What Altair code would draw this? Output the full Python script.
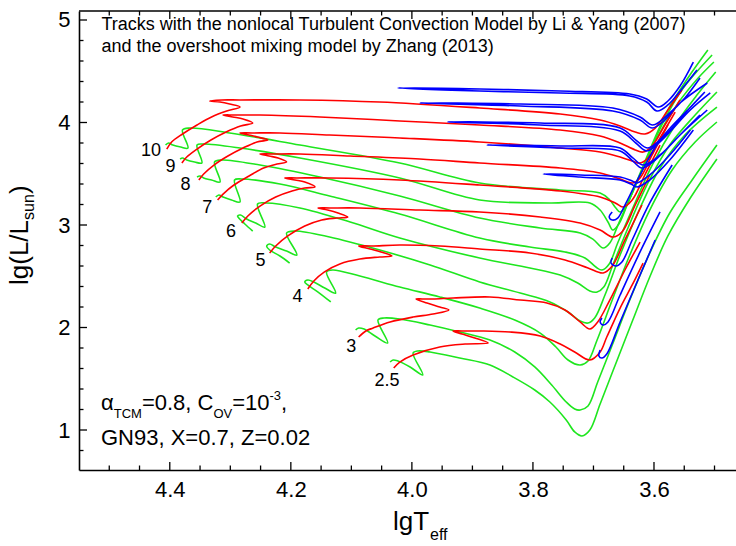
import altair as alt
import pandas as pd

FONT = "Liberation Sans"
GREEN = "#1ee61e"
RED = "#ff0000"
BLUE = "#0000ff"

# Evolutionary tracks as (lgTeff, lg L/Lsun) pairs, in evolutionary order.
green_10 = [(4.407,3.780),(4.402,3.800),(4.395,3.780),(4.382,3.761),(4.370,3.751),(4.379,3.927),(4.367,3.946),(4.301,3.898),(4.185,3.780),(4.020,3.605),(3.888,3.410),(3.755,3.341),(3.689,3.312),(3.673,3.244),(3.663,3.166),(3.656,3.127),(3.646,3.185),(3.631,3.390),(3.607,3.732),(3.577,4.122),(3.544,4.434),(3.511,4.707)]
green_9 = [(4.383,3.644),(4.379,3.654),(4.372,3.634),(4.359,3.615),(4.347,3.605),(4.355,3.780),(4.344,3.790),(4.284,3.751),(4.185,3.654),(4.020,3.459),(3.888,3.244),(3.772,3.215),(3.706,3.215),(3.689,3.146),(3.676,3.029),(3.668,2.951),(3.658,3.010),(3.643,3.215),(3.618,3.556),(3.587,3.976),(3.554,4.317),(3.504,4.659)]
green_8 = [(4.355,3.468),(4.350,3.478),(4.344,3.459),(4.331,3.439),(4.317,3.419),(4.326,3.615),(4.314,3.634),(4.251,3.585),(4.152,3.468),(4.020,3.283),(3.888,3.068),(3.788,2.971),(3.722,2.922),(3.701,2.863),(3.684,2.775),(3.673,2.824),(3.656,3.049),(3.630,3.390),(3.597,3.829),(3.560,4.190),(3.527,4.434),(3.501,4.590)]
green_7 = [(4.324,3.273),(4.319,3.293),(4.312,3.273),(4.298,3.244),(4.284,3.224),(4.293,3.439),(4.281,3.449),(4.218,3.400),(4.136,3.283),(4.020,3.107),(3.888,2.873),(3.805,2.785),(3.747,2.737),(3.714,2.678),(3.696,2.590),(3.686,2.561),(3.674,2.620),(3.660,2.824),(3.635,3.166),(3.603,3.585),(3.565,3.976),(3.529,4.268),(3.498,4.493)]
green_6 = [(4.263,2.941),(4.276,3.010),(4.286,3.068),(4.288,3.088),(4.283,3.097),(4.273,3.058),(4.258,3.019),(4.243,2.980),(4.255,3.205),(4.241,3.215),(4.185,3.166),(4.102,3.029),(4.020,2.873),(3.888,2.678),(3.805,2.581),(3.755,2.512),(3.726,2.434),(3.706,2.356),(3.694,2.346),(3.683,2.395),(3.668,2.610),(3.643,2.971),(3.610,3.410),(3.574,3.780),(3.532,4.073),(3.496,4.298)]
green_5 = [(4.202,2.629),(4.218,2.698),(4.235,2.756),(4.240,2.795),(4.235,2.815),(4.225,2.785),(4.207,2.746),(4.190,2.707),(4.207,2.922),(4.193,2.941),(4.136,2.883),(4.053,2.756),(3.970,2.610),(3.888,2.444),(3.821,2.336),(3.772,2.249),(3.742,2.151),(3.722,2.063),(3.709,2.044),(3.698,2.093),(3.681,2.317),(3.656,2.707),(3.623,3.166),(3.590,3.556),(3.549,3.878),(3.496,4.151)]
green_4 = [(4.134,2.249),(4.155,2.346),(4.172,2.415),(4.177,2.444),(4.172,2.463),(4.162,2.444),(4.144,2.385),(4.126,2.336),(4.141,2.541),(4.131,2.561),(4.086,2.502),(4.020,2.395),(3.954,2.298),(3.888,2.190),(3.830,2.073),(3.788,1.946),(3.762,1.810),(3.742,1.683),(3.722,1.634),(3.709,1.673),(3.694,1.878),(3.669,2.268),(3.640,2.707),(3.607,3.146),(3.570,3.537),(3.532,3.810),(3.496,4.005)]
green_3 = [(4.093,1.976),(4.088,1.995),(4.079,1.985),(4.061,1.917),(4.040,1.849),(4.056,2.073),(4.046,2.093),(4.020,2.083),(3.970,2.024),(3.921,1.956),(3.871,1.878),(3.830,1.761),(3.797,1.615),(3.769,1.439),(3.745,1.273),(3.731,1.205),(3.722,1.195),(3.709,1.234),(3.693,1.468),(3.669,1.829),(3.640,2.268),(3.607,2.727),(3.574,3.117),(3.537,3.439),(3.496,3.780)]
green_25 = [(4.036,1.663),(4.031,1.683),(4.023,1.673),(4.003,1.615),(3.982,1.537),(3.998,1.751),(3.990,1.771),(3.970,1.761),(3.921,1.702),(3.871,1.634),(3.833,1.517),(3.797,1.390),(3.772,1.273),(3.745,1.098),(3.731,0.981),(3.719,0.942),(3.706,1.000),(3.689,1.254),(3.664,1.634),(3.635,2.073),(3.607,2.493),(3.577,2.893),(3.540,3.263),(3.496,3.644)]

red_10 = [(4.405,3.741),(4.397,3.810),(4.379,3.888),(4.355,3.976),(4.331,4.054),(4.306,4.112),(4.284,4.151),(4.301,4.180),(4.317,4.200),(4.334,4.210),(4.314,4.220),(4.284,4.220),(4.185,4.220),(4.053,4.200),(3.888,4.141),(3.755,4.083),(3.689,4.024),(3.656,3.966),(3.631,3.907),(3.615,3.888),(3.598,3.946),(3.577,4.122),(3.554,4.317)]
red_9 = [(4.380,3.605),(4.372,3.663),(4.355,3.741),(4.332,3.829),(4.307,3.907),(4.283,3.966),(4.263,3.995),(4.279,4.034),(4.296,4.054),(4.312,4.073),(4.293,4.073),(4.251,4.073),(4.152,4.054),(4.020,4.015),(3.888,3.976),(3.755,3.927),(3.689,3.868),(3.656,3.800),(3.631,3.732),(3.618,3.712),(3.603,3.771),(3.582,3.976),(3.557,4.220)]
red_8 = [(4.352,3.439),(4.344,3.498),(4.327,3.585),(4.304,3.673),(4.279,3.751),(4.256,3.810),(4.238,3.829),(4.255,3.858),(4.269,3.878),(4.284,3.898),(4.264,3.898),(4.218,3.898),(4.136,3.878),(4.020,3.849),(3.888,3.810),(3.755,3.751),(3.689,3.712),(3.656,3.663),(3.636,3.624),(3.623,3.605),(3.610,3.654),(3.590,3.849),(3.565,4.102)]
red_7 = [(4.321,3.244),(4.312,3.302),(4.294,3.390),(4.269,3.478),(4.245,3.556),(4.223,3.595),(4.207,3.615),(4.221,3.654),(4.236,3.673),(4.251,3.693),(4.231,3.693),(4.185,3.693),(4.102,3.673),(3.987,3.644),(3.888,3.605),(3.755,3.556),(3.689,3.507),(3.656,3.449),(3.635,3.410),(3.623,3.459),(3.603,3.683),(3.577,3.976)]
red_6 = [(4.281,3.019),(4.271,3.088),(4.251,3.185),(4.225,3.273),(4.198,3.332),(4.177,3.361),(4.160,3.371),(4.177,3.419),(4.193,3.439),(4.210,3.459),(4.190,3.459),(4.136,3.459),(4.020,3.439),(3.888,3.390),(3.755,3.332),(3.689,3.273),(3.664,3.215),(3.651,3.176),(3.636,3.244),(3.615,3.488),(3.590,3.780)]
red_5 = [(4.235,2.727),(4.225,2.795),(4.205,2.893),(4.177,2.990),(4.149,3.049),(4.124,3.068),(4.106,3.078),(4.122,3.117),(4.139,3.146),(4.155,3.166),(4.136,3.166),(4.086,3.166),(3.987,3.146),(3.888,3.127),(3.788,3.078),(3.722,3.019),(3.689,2.951),(3.668,2.883),(3.653,2.932),(3.631,3.195),(3.607,3.488)]
red_4 = [(4.172,2.376),(4.162,2.454),(4.145,2.541),(4.119,2.620),(4.086,2.668),(4.053,2.688),(4.033,2.698),(4.051,2.737),(4.069,2.766),(4.088,2.795),(4.066,2.795),(4.020,2.805),(3.954,2.795),(3.888,2.766),(3.805,2.727),(3.747,2.659),(3.709,2.581),(3.684,2.532),(3.669,2.600),(3.648,2.854),(3.620,3.195)]
red_3 = [(4.088,1.907),(4.076,1.966),(4.064,1.995),(4.036,2.054),(3.998,2.102),(3.965,2.132),(3.939,2.171),(3.954,2.200),(3.975,2.239),(3.993,2.278),(3.983,2.278),(3.965,2.278),(3.932,2.288),(3.871,2.298),(3.821,2.268),(3.777,2.239),(3.747,2.171),(3.722,2.054),(3.706,1.985),(3.693,2.054),(3.673,2.268),(3.648,2.561),(3.623,2.834)]
red_25 = [(4.030,1.605),(4.020,1.663),(3.998,1.732),(3.954,1.810),(3.912,1.839),(3.874,1.849),(3.896,1.898),(3.917,1.937),(3.932,1.966),(3.917,1.966),(3.888,1.966),(3.838,1.956),(3.788,1.917),(3.755,1.839),(3.731,1.761),(3.706,1.683),(3.689,1.761),(3.678,1.907),(3.656,2.190),(3.636,2.415),(3.618,2.629)]

blue_10 = [(3.535,4.590),(3.557,4.356),(3.577,4.210),(3.593,4.151),(3.612,4.229),(3.640,4.278),(3.755,4.307),(3.888,4.327),(4.023,4.337),(3.888,4.307),(3.755,4.288),(3.640,4.259),(3.612,4.200),(3.595,4.112),(3.577,4.171),(3.554,4.327),(3.529,4.512)]
blue_9 = [(3.524,4.434),(3.549,4.239),(3.574,4.093),(3.602,3.976),(3.623,4.054),(3.668,4.141),(3.821,4.180),(3.987,4.190),(3.821,4.161),(3.668,4.112),(3.623,4.024),(3.603,3.946),(3.582,4.024),(3.557,4.190),(3.512,4.385)]
blue_8 = [(3.516,4.298),(3.544,4.122),(3.582,3.878),(3.610,3.751),(3.630,3.829),(3.656,3.946),(3.788,3.995),(3.941,4.005),(3.788,3.976),(3.656,3.917),(3.630,3.800),(3.612,3.722),(3.587,3.829),(3.540,4.122),(3.507,4.288)]
blue_7 = [(3.524,4.073),(3.557,3.878),(3.590,3.683),(3.618,3.585),(3.635,3.654),(3.656,3.751),(3.755,3.771),(3.876,3.780),(3.755,3.751),(3.656,3.722),(3.635,3.624),(3.620,3.556),(3.598,3.634),(3.557,3.878),(3.512,4.122)]
blue_6 = [(3.540,3.927),(3.574,3.683),(3.607,3.488),(3.628,3.410),(3.636,3.429),(3.656,3.468),(3.722,3.488),(3.783,3.498),(3.722,3.468),(3.656,3.439),(3.638,3.400),(3.628,3.371),(3.607,3.439),(3.574,3.634),(3.535,3.927)]
blue_5 = [(3.669,3.127),(3.674,3.078),(3.669,3.049),(3.660,3.068),(3.648,3.195),(3.623,3.488),(3.590,3.829),(3.544,4.122)]
blue_4 = [(3.669,2.678),(3.671,2.629),(3.663,2.600),(3.653,2.639),(3.636,2.854),(3.607,3.215),(3.570,3.585)]
blue_3 = [(3.686,2.093),(3.689,2.054),(3.684,2.024),(3.676,2.054),(3.656,2.317),(3.623,2.737),(3.590,3.127)]
blue_25 = [(3.689,1.780),(3.691,1.722),(3.686,1.702),(3.678,1.741),(3.656,2.054),(3.623,2.512),(3.598,2.854)]

masses = ["10", "9", "8", "7", "6", "5", "4", "3", "2.5"]
greens = [green_10, green_9, green_8, green_7, green_6, green_5, green_4, green_3, green_25]
reds = [red_10, red_9, red_8, red_7, red_6, red_5, red_4, red_3, red_25]
blues = [blue_10, blue_9, blue_8, blue_7, blue_6, blue_5, blue_4, blue_3, blue_25]

# Mass labels beside each track
label_text = ["10", "9", "8", "7", "6", "5", "4", "3", "2.5"]
label_teff = [4.431, 4.399, 4.374, 4.338, 4.299, 4.250, 4.189, 4.100, 4.041]
label_lum = [3.735, 3.578, 3.407, 3.185, 2.948, 2.665, 2.317, 1.829, 1.488]

x_major = [4.4, 4.2, 4.0, 3.8, 3.6]
x_minor = [4.5, 4.45, 4.35, 4.3, 4.25, 4.15, 4.1, 4.05, 3.95, 3.9, 3.85, 3.75, 3.7, 3.65, 3.55, 3.5]
y_major = [1, 2, 3, 4, 5]
y_minor = [0.8, 1.2, 1.4, 1.6, 1.8, 2.2, 2.4, 2.6, 2.8, 3.2, 3.4, 3.6, 3.8, 4.2, 4.4, 4.6, 4.8]

W, H = 657, 459

rows = []
for stage, group in (("main", greens), ("loop", reds), ("late", blues)):
    for mass, pts in zip(masses, group):
        for i, (t, l) in enumerate(pts):
            rows.append({"stage": stage, "mass": mass, "seq": i, "teff": t, "lum": l})
tracks = pd.DataFrame(rows)

xenc = alt.X("teff:Q",
             scale=alt.Scale(domain=[4.55, 3.4645], nice=False, zero=False),
             axis=alt.Axis(values=x_major, format=".1f", title="", ticks=False, grid=False,
                           domainColor="black", domainWidth=1.6, labelFont=FONT,
                           labelFontSize=22, labelColor="black", labelPadding=9))
yenc = alt.Y("lum:Q",
             scale=alt.Scale(domain=[0.6098, 5.0878], nice=False, zero=False),
             axis=alt.Axis(values=y_major, format="d", title="", ticks=False, grid=False,
                           domainColor="black", domainWidth=1.6, labelFont=FONT,
                           labelFontSize=22, labelColor="black", labelPadding=9))

base = alt.Chart(tracks)


def track_layer(stage, color):
    return base.transform_filter(alt.datum.stage == stage).mark_line(
        color=color, strokeWidth=1.6, strokeJoin="round", interpolate="catmull-rom", clip=True
    ).encode(x=xenc, y=yenc, detail="mass:N", order="seq:Q")


layers = [track_layer("main", GREEN), track_layer("loop", RED), track_layer("late", BLUE)]

labels = pd.DataFrame({"teff": label_teff, "lum": label_lum, "txt": label_text})
layers.append(alt.Chart(labels).mark_text(font=FONT, fontSize=18, align="center",
                                           baseline="alphabetic", dy=6.5, color="black")
              .encode(x=xenc, y=yenc, text="txt:N"))

# inward ticks on bottom, top and left
for vals, length in ((x_major, 8), (x_minor, 4.5)):
    d = pd.DataFrame({"teff": vals})
    layers.append(alt.Chart(d).mark_rule(color="black", strokeWidth=1.3)
                  .encode(x=xenc, y=alt.value(H), y2=alt.value(H - length)))
    layers.append(alt.Chart(d).mark_rule(color="black", strokeWidth=1.3)
                  .encode(x=xenc, y=alt.value(0), y2=alt.value(length)))
for vals, length in ((y_major, 8), (y_minor, 4.5)):
    d = pd.DataFrame({"lum": vals})
    layers.append(alt.Chart(d).mark_rule(color="black", strokeWidth=1.3)
                  .encode(y=yenc, x=alt.value(0), x2=alt.value(length)))

one = pd.DataFrame({"k": [0]})
layers.append(alt.Chart(one).mark_rule(color="black", strokeWidth=1.6)
              .encode(x=alt.value(0), x2=alt.value(W), y=alt.value(0)))


def note(text, x, y, size, angle=0):
    return alt.Chart(one).mark_text(text=text, font=FONT, fontSize=size, align="left",
                                    baseline="alphabetic", color="black", angle=angle
                                    ).encode(x=alt.value(x), y=alt.value(y))


layers += [
    note("Tracks with the nonlocal Turbulent Convection Model by Li & Yang (2007)", 22.5, 18.5, 18),
    note("and the overshoot mixing model by Zhang (2013)", 22.5, 40.5, 18),
    note("\u03b1", 22, 399, 22),
    note("TCM", 34.7, 407, 13),
    note("=0.8, C", 62.9, 399, 22),
    note("OV", 134.4, 407, 13),
    note("=10", 153.2, 399, 22),
    note("-3", 190.5, 388.5, 13),
    note(",", 202.1, 399, 22),
    note("GN93, X=0.7, Z=0.02", 22, 434, 22),
    note("lgT", 314, 519, 26),
    note("eff", 351, 529, 16),
    note("lg(L/L", -51, 274, 26, 270),
    note("sun", -45, 209, 16, 270),
    note(")", -51, 183, 26, 270),
]

chart = alt.layer(*layers).properties(
    width=W, height=H,
    autosize=alt.AutoSizeParams(type="none"),
    padding={"left": 79, "top": 11, "right": 0, "bottom": 76},
).configure_view(stroke="transparent")

chart.save("out.html", embed_options={"renderer": "svg", "actions": False})
